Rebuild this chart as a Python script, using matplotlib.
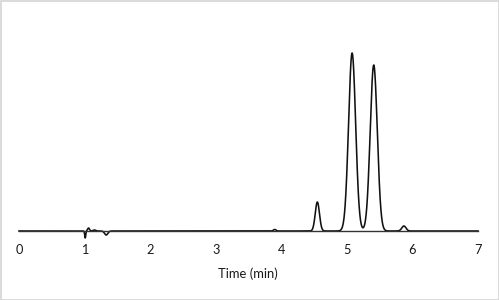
import numpy as np
import matplotlib
matplotlib.use("Agg")
import matplotlib.pyplot as plt
from matplotlib.patches import Rectangle

# Peak table (retention time in min, height and width in arbitrary units)
peak_times = [1.01, 1.06, 1.15, 1.33, 3.90, 4.55, 5.08, 5.41, 5.87]
peak_heights = [-7.0, 3.0, 1.0, -4.0, 1.5, 29.0, 178.0, 166.0, 5.0]
peak_sigmas = [0.008, 0.015, 0.02, 0.025, 0.02, 0.032, 0.054, 0.054, 0.032]

x_ticks = [0, 1, 2, 3, 4, 5, 6, 7]
x_label = "Time (min)"

W, H = 499, 300
fig = plt.figure(figsize=(W / 100, H / 100), dpi=100)
fig.patch.set_facecolor("white")
fig.patches.append(Rectangle((0.5 / W, 0.5 / H), 1 - 1.0 / W, 1 - 1.0 / H,
                             transform=fig.transFigure, fill=False,
                             edgecolor="#d4d4d4", linewidth=1.2))

x0, x1 = 19, 478
y_base, y_top = 231, 31
ax = fig.add_axes([x0 / W, (H - y_base) / H, (x1 - x0) / W, (y_base - y_top) / H])

t = np.linspace(0, 7, 3000)
signal = np.zeros_like(t)
for rt, h, s in zip(peak_times, peak_heights, peak_sigmas):
    signal += h * np.exp(-0.5 * ((t - rt) / s) ** 2)

line, = ax.plot(t, signal, color="#111111", linewidth=1.15, solid_joinstyle="round")
line.set_clip_on(False)
ax.set_xlim(0, 7)
ax.set_ylim(0, 200)
ax.set_xticks(x_ticks)
ax.set_xticklabels([str(v) for v in x_ticks], fontsize=9.2, family="Lato", color="#1a1a1a")
ax.tick_params(axis="x", length=0, pad=9)
ax.set_yticks([])
for side in ["top", "right", "left"]:
    ax.spines[side].set_visible(False)
ax.spines["bottom"].set_color("#333333")
ax.spines["bottom"].set_linewidth(1.0)
ax.patch.set_alpha(0)

fig.text(248 / W, 1 - 274 / H, x_label, ha="center", va="center",
         fontsize=9.4, family="Lato", color="#1a1a1a")

fig.savefig("out.png", dpi=100, facecolor="white")
